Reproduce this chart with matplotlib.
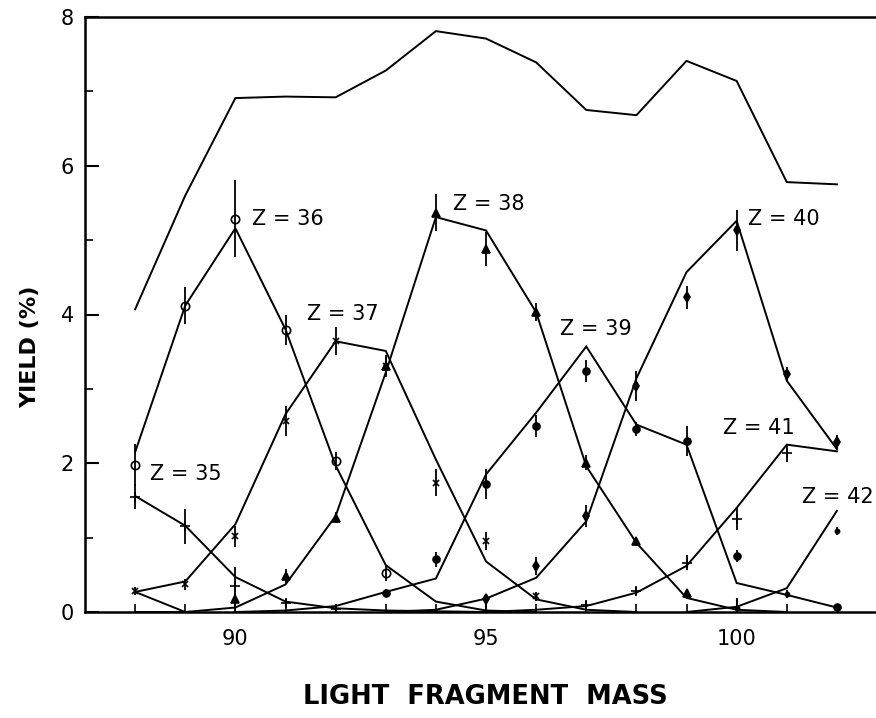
import matplotlib
matplotlib.use("Agg")
import matplotlib.pyplot as plt
import numpy as np

# ---------------- data ----------------
mass = list(range(88, 103))
total = [4.07, 5.60, 6.91, 6.93, 6.92, 7.28, 7.81, 7.71, 7.39, 6.75, 6.68, 7.41, 7.14, 5.78, 5.75]

# calculated curves (mass range, yield)
z34_m = [88, 89]
z34_y = [0.27, 0.0]
z35_m = [88, 89, 90, 91, 92, 93, 94, 95]
z35_y = [1.56, 1.16, 0.47, 0.14, 0.05, 0.02, 0.01, 0.0]
z36_m = [88, 89, 90, 91, 92, 93, 94, 95, 96]
z36_y = [2.15, 4.12, 5.16, 3.80, 1.97, 0.63, 0.14, 0.02, 0.0]
z37_m = [88, 89, 90, 91, 92, 93, 94, 95, 96, 97, 98]
z37_y = [0.27, 0.41, 1.18, 2.66, 3.64, 3.51, 2.05, 0.68, 0.17, 0.03, 0.0]
z38_m = [88, 89, 90, 91, 92, 93, 94, 95, 96, 97, 98, 99, 100, 101]
z38_y = [0.0, 0.0, 0.06, 0.37, 1.29, 3.22, 5.31, 5.13, 4.03, 1.96, 0.93, 0.19, 0.03, 0.0]
z39_m = [90, 91, 92, 93, 94, 95, 96, 97, 98, 99, 100, 101, 102]
z39_y = [0.0, 0.02, 0.08, 0.27, 0.45, 1.85, 2.68, 3.57, 2.52, 2.25, 0.39, 0.23, 0.06]
z40_m = [93, 94, 95, 96, 97, 98, 99, 100, 101, 102]
z40_y = [0.0, 0.03, 0.18, 0.46, 1.22, 3.14, 4.57, 5.26, 3.11, 2.19]
z41_m = [95, 96, 97, 98, 99, 100, 101, 102]
z41_y = [0.0, 0.03, 0.08, 0.26, 0.62, 1.40, 2.25, 2.16]
z42_m = [99, 100, 101, 102]
z42_y = [0.0, 0.07, 0.32, 1.36]

# measured points (mass, yield, error)
p35_m = [88, 89, 90, 91, 92]
p35_y = [1.55, 1.15, 0.35, 0.12, 0.04]
p35_e = [0.17, 0.23, 0.25, 0.05, 0.03]
p36_m = [88, 89, 90, 91, 92, 93]
p36_y = [1.98, 4.12, 5.29, 3.79, 2.03, 0.52]
p36_e = [0.28, 0.25, 0.52, 0.20, 0.12, 0.10]
p37_m = [88, 89, 90, 91, 92, 93, 94, 95, 96]
p37_y = [0.28, 0.37, 1.02, 2.57, 3.64, 3.31, 1.74, 0.95, 0.21]
p37_e = [0.05, 0.07, 0.14, 0.20, 0.19, 0.15, 0.18, 0.12, 0.06]
p38_m = [90, 91, 92, 93, 94, 95, 96, 97, 98, 99]
p38_y = [0.17, 0.48, 1.27, 3.31, 5.37, 4.88, 4.03, 2.01, 0.95, 0.26]
p38_e = [0.08, 0.10, 0.08, 0.12, 0.25, 0.23, 0.12, 0.10, 0.06, 0.05]
p39_m = [93, 94, 95, 96, 97, 98, 99, 100, 102]
p39_y = [0.26, 0.71, 1.72, 2.50, 3.24, 2.46, 2.30, 0.75, 0.07]
p39_e = [0.05, 0.10, 0.20, 0.15, 0.15, 0.10, 0.20, 0.08, 0.03]
p40_m = [95, 96, 97, 98, 99, 100, 101, 102]
p40_y = [0.17, 0.62, 1.29, 3.04, 4.23, 5.13, 3.20, 2.28]
p40_e = [0.05, 0.12, 0.15, 0.20, 0.15, 0.27, 0.10, 0.10]
p41_m = [97, 98, 99, 100, 101]
p41_y = [0.10, 0.28, 0.66, 1.25, 2.14]
p41_e = [0.05, 0.05, 0.10, 0.15, 0.12]
p42_m = [100, 101, 102]
p42_y = [0.05, 0.24, 1.09]
p42_e = [0.03, 0.05, 0.05]

labels = ["Z = 35", "Z = 36", "Z = 37", "Z = 38", "Z = 39", "Z = 40", "Z = 41", "Z = 42"]
label_x = [88.30, 90.33, 91.43, 94.34, 96.48, 100.23, 99.73, 101.31]
label_y = [1.85, 5.28, 4.00, 5.48, 3.80, 5.28, 2.48, 1.55]

xticks = [90, 95, 100]
yticks = [0, 2, 4, 6, 8]

# ---------------- plot ----------------
fig = plt.figure(figsize=(8.76, 7.18), dpi=100)
ax = fig.add_axes([85/876, 106/718, 791/876, 595/718])

lw = 1.4
ax.plot(mass, total, color="black", lw=lw)
for m, y in [(z34_m, z34_y), (z35_m, z35_y), (z36_m, z36_y), (z37_m, z37_y),
             (z38_m, z38_y), (z39_m, z39_y), (z40_m, z40_y), (z41_m, z41_y),
             (z42_m, z42_y)]:
    ax.plot(m, y, color="black", lw=lw, solid_joinstyle="miter")

pts = [
    (p35_m, p35_y, p35_e, "+", 7, "black"),
    (p36_m, p36_y, p36_e, "o", 6, "none"),
    (p37_m, p37_y, p37_e, "x", 5, "black"),
    (p38_m, p38_y, p38_e, "^", 6, "black"),
    (p39_m, p39_y, p39_e, "o", 5, "black"),
    (p40_m, p40_y, p40_e, "d", 5, "black"),
    (p41_m, p41_y, p41_e, "+", 7, "black"),
    (p42_m, p42_y, p42_e, ".", 6, "black"),
]
for m, y, e, mk, ms, mfc in pts:
    ax.errorbar(m, y, yerr=e, fmt=mk, ms=ms, mfc=mfc, mec="black",
                ecolor="black", elinewidth=1.3, capsize=0, color="black", mew=1.2)

for t, x, y in zip(labels, label_x, label_y):
    ax.text(x, y, t, fontsize=15, ha="left", va="center", color="black")

ax.set_xlim(87.0, 102.78)
ax.set_ylim(0, 8)
ax.set_xticks(xticks)
ax.set_xticklabels([str(v) for v in xticks])
ax.set_xticks(mass, minor=True)
ax.set_yticks(yticks)
ax.set_yticklabels([str(v) for v in yticks])
ax.set_yticks([1, 3, 5, 7], minor=True)
ax.tick_params(axis="both", which="major", direction="in", length=10, width=1.5,
               labelsize=15, pad=8)
ax.tick_params(axis="both", which="minor", direction="in", length=6, width=1.2)
ax.tick_params(axis="x", which="major", pad=12)

for s in ["left", "bottom", "top"]:
    ax.spines[s].set_linewidth(1.8)
ax.spines["right"].set_visible(False)

fig.text(30/876, 1 - 347/718, "YIELD (%)", rotation=90, ha="center", va="center",
         fontsize=16, fontweight="bold")
fig.text(485/876, 1 - 697/718, "LIGHT  FRAGMENT  MASS", ha="center", va="center",
         fontsize=18.5, fontweight="bold")

fig.savefig("out.png", dpi=100)
